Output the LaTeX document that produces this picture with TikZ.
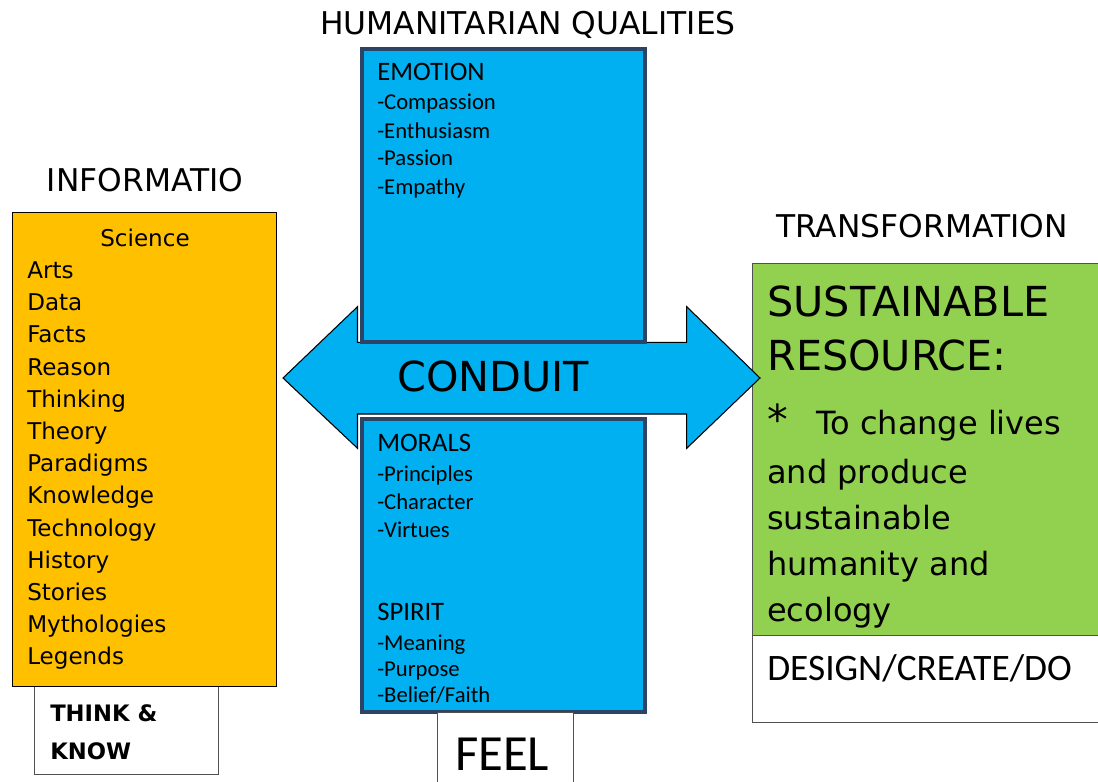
\documentclass[tikz,border=0pt]{standalone}
\usepackage{fontspec}
\setmainfont{DejaVu Sans}
\newfontfamily\calfont{Carlito}

\definecolor{infoorange}{HTML}{FFC000}
\definecolor{condblue}{HTML}{00B0F0}
\definecolor{transgreen}{HTML}{92D050}
\definecolor{boxnavy}{HTML}{2C4466}
\definecolor{edgegray}{HTML}{505050}

\tikzset{
  box/.style={draw, rectangle, inner sep=0pt, anchor=north west},
  heading/.style={anchor=base, inner sep=0pt, font=\fontsize{23.5}{28}\selectfont},
  item/.style={anchor=base west, inner sep=0pt, font=\fontsize{17.3}{20}\selectfont},
  qualhead/.style={anchor=base west, inner sep=0pt, font=\calfont\fontsize{20}{24}\selectfont},
  quality/.style={anchor=base west, inner sep=0pt, font=\calfont\fontsize{17}{20}\selectfont},
  bigline/.style={anchor=base west, inner sep=0pt, font=\fontsize{31}{36}\selectfont},
  midline/.style={anchor=base west, inner sep=0pt, font=\fontsize{24}{30}\selectfont},
}

\begin{document}
\begin{tikzpicture}[x=0.75pt, y=-0.75pt]
    \useasboundingbox (0,0) rectangle (1098,781);

    % boxes
    \node[box, draw=edgegray, line width=0.75pt, fill=white, minimum width=138pt, minimum height=66pt] (think) at (34,686) {};
    \node[box, line width=1.1pt, fill=infoorange, minimum width=198pt, minimum height=355.5pt] (info) at (11.5,212) {};
    \node[box, draw=edgegray, line width=0.9pt, fill=white, minimum width=265.5pt, minimum height=65pt] (design) at (751.5,635) {};
    \node[box, draw=edgegray, line width=0.9pt, fill=transgreen, minimum width=265.5pt, minimum height=279pt] (trans) at (751.5,263) {};

    % conduit arrow
    \draw[fill=condblue, line width=0.8pt, line join=miter]
        (283,378) -- (357.5,306.7) -- (357.5,342.3) -- (686.7,342.3) -- (686.7,306.7)
        -- (760,378) -- (686.7,448.3) -- (686.7,414) -- (357.5,414) -- (357.5,448.3) -- cycle;

    \node[box, draw=boxnavy, line width=3pt, fill=condblue, minimum width=212.25pt, minimum height=219.75pt] (emotion) at (360,47) {};
    \node[box, draw=boxnavy, line width=3pt, fill=condblue, minimum width=212.25pt, minimum height=219.75pt] (morals) at (360,417) {};
    \node[box, draw=edgegray, line width=0.75pt, fill=white, minimum width=101.8pt, minimum height=66pt] (feel) at (437,712) {};

    % headings
    \node[heading] (humhead) at (528,35) {HUMANITARIAN QUALITIES};
    \node[heading] (infohead) at (145,191) {INFORMATIO};
    \node[heading] (transhead) at (922,237) {TRANSFORMATION};

    % information list
    \node[item, anchor=base] (science) at (145,246) {Science};
    \foreach \w [count=\i from 0] in {Arts,Data,Facts,Reason,Thinking,Theory,Paradigms,Knowledge,Technology,History,Stories,Mythologies,Legends}
        \node[item] (inf\i) at (27,{278.5+32.2*\i}) {\w};
    \node[item, font=\bfseries\fontsize{17}{20}\selectfont] (think1) at (50,721.7) {THINK \&};
    \node[item, font=\bfseries\fontsize{17}{20}\selectfont] (think2) at (50,759.3) {KNOW};

    % humanitarian qualities
    \node[qualhead] (emohead) at (377,80.7) {EMOTION};
    \foreach \w [count=\i from 0] in {Compassion,Enthusiasm,Passion,Empathy}
        \node[quality] (emo\i) at (377,{110+28*\i}) {-\w};
    \node[qualhead] (morhead) at (377,451.7) {MORALS};
    \foreach \w [count=\i from 0] in {Principles,Character,Virtues}
        \node[quality] (mor\i) at (377,{481+28*\i}) {-\w};
    \node[qualhead] (spihead) at (377,620.7) {SPIRIT};
    \foreach \w [count=\i from 0] in {Meaning,Purpose,Belief/Faith}
        \node[quality] (spi\i) at (377,{650+26*\i}) {-\w};
    \node[anchor=base west, inner sep=0pt, font=\calfont\fontsize{38}{44}\selectfont] (feeltext) at (455,770) {FEEL};

    \node[bigline] (conduit) at (397,391.7) {CONDUIT};

    % transformation
    \node[bigline] (sus1) at (767,316.7) {SUSTAINABLE};
    \node[bigline] (sus2) at (767,370.8) {RESOURCE:};
    \node[midline] (sus3) at (767,434.1) {\makebox[36.75pt][l]{\fontsize{31}{36}\selectfont *}To change lives};
    \node[midline] (sus4) at (767,483.5) {and produce};
    \node[midline] (sus5) at (767,529.8) {sustainable};
    \node[midline] (sus6) at (767,575.5) {humanity and};
    \node[midline] (sus7) at (767,621.2) {ecology};
    \node[anchor=base west, inner sep=0pt, font=\calfont\fontsize{28}{32}\selectfont] (designtext) at (767,680) {DESIGN/CREATE/DO};
\end{tikzpicture}
\end{document}
